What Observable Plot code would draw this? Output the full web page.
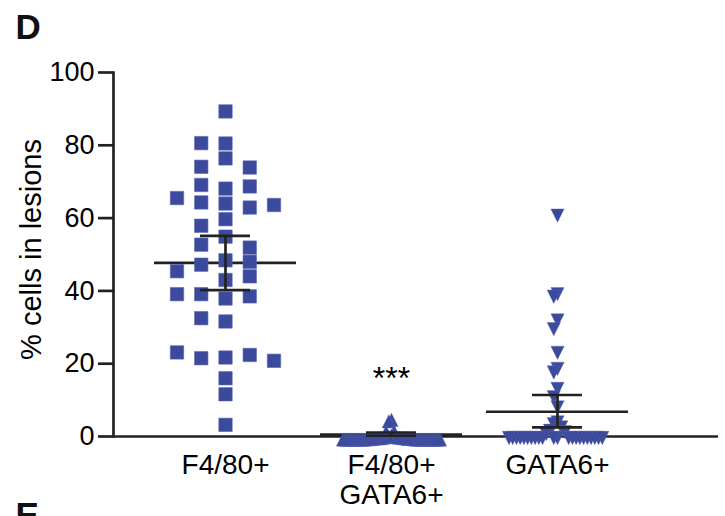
<!DOCTYPE html>
<html>
<head>
<meta charset="utf-8">
<script src="https://cdn.jsdelivr.net/npm/d3@7"></script>
<script src="https://cdn.jsdelivr.net/npm/@observablehq/plot@0.6"></script>
<style>
  html, body { margin: 0; padding: 0; background: #fff; }
</style>
</head>
<body>
<div id="chart"></div>
<script>
// ---------- data ----------
const categories = ["F4/80+", "F4/80+\nGATA6+", "GATA6+"];

const f480Values = [89.3, 80.5, 80.6, 76.4, 74.1, 73.9, 68.1, 69.1, 68.7, 64.0,
  64.3, 65.5, 62.9, 63.6, 59.7, 57.9, 54.9, 52.7, 51.9, 48.4,
  47.2, 48.0, 45.4, 43.0, 44.0, 37.9, 39.1, 38.5, 39.1, 31.6,
  32.5, 21.7, 21.5, 22.4, 23.1, 20.8, 16.0, 11.6, 3.2];

const f480Gata6Values = [5.4, 5.0, 2.1, 2.0, 1.1, 0.8, 0.6, 0.5, 0.5, 0.4,
  0.4, 0.3, 0.3, 0.3, 0.2, 0.2, 0.2, 0.1, 0.1, 0.1,
  0, 0, 0, 0, 0, 0, 0, 0, 0, 0,
  0, 0, 0, 0, 0, 0, 0, 0, 0];

const gata6Values = [61.1, 39.5, 38.8, 32.3, 29.9, 23.4, 19.0, 18.0, 13.5, 11.2,
  8.4, 4.3, 3.8, 2.9, 2.0, 1.6, 1.1, 0, 0, 0,
  0, 0, 0, 0, 0, 0, 0, 0, 0, 0,
  0, 0, 0, 0, 0, 0, 0, 0, 0];

const meanValues  = [47.7, 0.5, 6.8];
const lowerValues = [40.2, 0.2, 2.5];
const upperValues = [55.1, 1.1, 11.4];

const yTicks = [0, 20, 40, 60, 80, 100];
const significance = ["", "***", ""];
const yLabel = "% cells in lesions";
const panelTop = "D";
const panelBottom = "E";

// ---------- layout / style constants ----------
const W = 725, H = 516;
const mL = 113, mR = 7, mT = 72, mB = 80;
const xRange = [225, 557];                 // centres of first and last group
const pxPerX = (xRange[1] - xRange[0]) / 2;
const yPxPerUnit = (H - mB - mT) / 100;
const symbolPx = 13.4;
const collide = symbolPx / yPxPerUnit;      // vertical collision distance (data units)
const stepMax = 24.3, halfMax = 48.5;        // Prism-like column scatter
const meanHalfPx = 71, capHalfPx = 25;
const blue = "#3b4a9d";
const ink = "#222";
const sigY = 16;
const font = "'Liberation Sans', Arial, Helvetica, sans-serif";

// Prism-like scatter: assign each point to the nearest free column slot
function slots(values) {
  const order = [0];
  for (let k = 1; k < 200; k++) order.push(-k, k);
  const placed = new Map();
  return values.map(v => {
    for (const s of order) {
      const arr = placed.get(s) || [];
      if (arr.every(u => Math.abs(u - v) >= collide)) {
        arr.push(v); placed.set(s, arr); return s;
      }
    }
    return 0;
  });
}
function layout(values, g) {
  const s = slots(values);
  const m = d3.max(s, Math.abs) || 1;
  const step = Math.min(stepMax, halfMax / m);
  return values.map((v, i) => ({group: g, value: v, x: g + s[i] * step / pxPerX}));
}

const pts0 = layout(f480Values, 0);
const pts1 = layout(f480Gata6Values, 1);
const pts2 = layout(gata6Values, 2);

const summary = categories.map((c, i) => ({
  i, name: c, mean: meanValues[i], lo: lowerValues[i], hi: upperValues[i], sig: significance[i]
}));

// custom triangle symbols (bounding-box centred)
const triUp = {
  draw(ctx, size) {
    const h = Math.sqrt(size / Math.PI) * 0.88;
    ctx.moveTo(0, -h); ctx.lineTo(h, h); ctx.lineTo(-h, h); ctx.closePath();
  }
};
const triDown = {
  draw(ctx, size) {
    const h = Math.sqrt(size / Math.PI) * 0.88;
    ctx.moveTo(-h, -h); ctx.lineTo(h, -h); ctx.lineTo(0, h); ctx.closePath();
  }
};
const r = symbolPx / Math.sqrt(Math.PI);

const chart = Plot.plot({
  width: W, height: H,
  marginLeft: mL, marginRight: mR, marginTop: mT, marginBottom: mB,
  style: {fontFamily: font, background: "#fff", color: "#000", overflow: "visible"},
  x: {domain: [0, 2], range: xRange},
  y: {domain: [0, 100]},
  marks: [
    // x axis baseline (under the symbols, as in the reference)
    Plot.ruleY([0], {stroke: ink, strokeWidth: 2.7}),
    // mean lines (under the symbols)
    Plot.ruleY(summary, {y: "mean", x1: d => d.i - meanHalfPx / pxPerX, x2: d => d.i + meanHalfPx / pxPerX,
      stroke: ink, strokeWidth: 2.7}),
    // points
    Plot.dot(pts0, {x: "x", y: "value", symbol: "square", r, fill: blue, stroke: "#5865b0", strokeWidth: 0.6}),
    Plot.dot(pts1, {x: "x", y: "value", symbol: triUp, r, dy: 3, fill: blue, stroke: "#5865b0", strokeWidth: 0.4}),
    Plot.dot(pts2, {x: "x", y: "value", symbol: triDown, r, dy: 1.5, fill: blue, stroke: "#5865b0", strokeWidth: 0.4}),
    // error bars
    Plot.ruleX(summary, {x: "i", y1: "lo", y2: "hi", stroke: ink, strokeWidth: 2.7}),
    Plot.ruleY(summary, {y: "hi", x1: d => d.i - capHalfPx / pxPerX, x2: d => d.i + capHalfPx / pxPerX,
      stroke: ink, strokeWidth: 2.7}),
    Plot.ruleY(summary, {y: "lo", x1: d => d.i - capHalfPx / pxPerX, x2: d => d.i + capHalfPx / pxPerX,
      stroke: ink, strokeWidth: 2.7}),
    // axes
    Plot.frame({anchor: "left", stroke: ink, strokeWidth: 2.7}),
    Plot.axisY({ticks: yTicks, tickSize: 15, tickPadding: 4, fontSize: 27, stroke: ink, strokeWidth: 2.7,
      fill: "#000", label: null, tickFormat: d => String(d)}),
    Plot.axisX({ticks: [0, 1, 2], tickFormat: i => categories[i], tickSize: 0, tickPadding: 16,
      fontSize: 28, lineHeight: 1.07, fill: "#000", label: null}),
    Plot.text([yLabel], {text: d => d, frameAnchor: "left", rotate: -90, dx: -72.5, dy: -5,
      fontSize: 29, textAnchor: "middle", lineAnchor: "bottom", fill: "#000"}),
    // significance marker
    Plot.text(summary.filter(d => d.sig), {x: "i", y: () => sigY, text: "sig", fontSize: 32,
      lineAnchor: "middle", fill: "#000"}),
    // panel letters
    Plot.text([panelTop], {text: d => d, frameAnchor: "top-left", dx: -98, dy: -58, fontSize: 35,
      fontWeight: "bold", textAnchor: "start", lineAnchor: "top", fill: "#111"}),
    Plot.text([panelBottom], {text: d => d, frameAnchor: "bottom-left", dx: -98, dy: 66, fontSize: 35,
      fontWeight: "bold", textAnchor: "start", lineAnchor: "top", fill: "#111"})
  ]
});
document.getElementById("chart").appendChild(chart);
</script>
</body>
</html>
